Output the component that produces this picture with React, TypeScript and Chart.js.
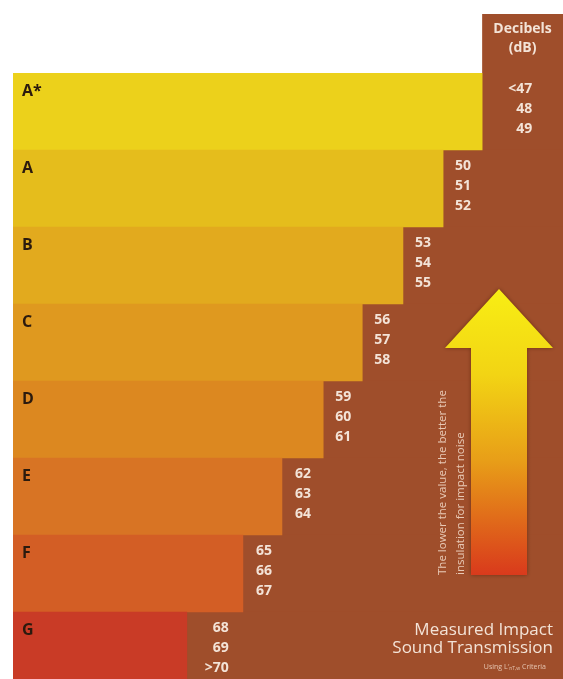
import React, { useEffect, useRef } from 'react';
import { Chart, registerables } from 'chart.js';

Chart.register(...registerables);

// ---------- data ----------
const GRADES = ['A*', 'A', 'B', 'C', 'D', 'E', 'F', 'G'];
const BAR_LENGTH = [85.3, 78.2, 70.9, 63.5, 56.4, 48.9, 41.8, 31.6];
const SCALE_MAX = 100;
const DB_VALUES = [
  ['<47', '48', '49'],
  ['50', '51', '52'],
  ['53', '54', '55'],
  ['56', '57', '58'],
  ['59', '60', '61'],
  ['62', '63', '64'],
  ['65', '66', '67'],
  ['68', '69', '>70'],
];
const HEADER = ['Decibels', '(dB)'];
const ARROW_NOTE = ['The lower the value, the better the', 'insulation for impact noise'];
const FOOTER = ['Measured Impact', 'Sound Transmission'];
const FOOTNOTE = ['Using L\u2032', 'nT,w', ' Criteria'];

// ---------- styles ----------
const GRADE_COLORS = ['#ecd11b', '#e5bd1c', '#e2aa1e', '#df991f', '#dc8820', '#d87424', '#d35e25', '#c93b26'];
const BROWN = '#9f4e2b';
const LIGHT_TEXT = '#f3e3d7';
const FONT = '"Open Sans", "DejaVu Sans", sans-serif';
const NUMBER_RIGHT_OFFSET = [50, 28, 28, 28, 28, 29, 29, 42];
const CANVAS_W = 563;
const CANVAS_H = 690;

const overlayPlugin = {
  id: 'overlay',
  beforeDatasetsDraw(chart: any) {
    const { ctx, chartArea, scales } = chart;
    const x0 = scales.x.getPixelForValue(BAR_LENGTH[0]);
    ctx.save();
    ctx.fillStyle = BROWN;
    ctx.fillRect(x0, 14, chartArea.right - x0, chartArea.top - 14 + 1);
    ctx.restore();
  },
  afterDatasetsDraw(chart: any) {
    const { ctx, chartArea, scales } = chart;
    const xs = scales.x;
    const ys = scales.y;
    const rowH = ys.getPixelForValue(1) - ys.getPixelForValue(0);
    const colX0 = xs.getPixelForValue(BAR_LENGTH[0]);
    const colCenter = (colX0 + chartArea.right) / 2;

    ctx.save();
    // header
    ctx.fillStyle = LIGHT_TEXT;
    ctx.font = `bold 14px ${FONT}`;
    ctx.textAlign = 'center';
    ctx.textBaseline = 'middle';
    ctx.fillText(HEADER[0], colCenter, 29);
    ctx.fillText(HEADER[1], colCenter, 48);

    // dB numbers
    ctx.font = `bold 14px ${FONT}`;
    ctx.textAlign = 'right';
    DB_VALUES.forEach((vals, i) => {
      const top = ys.getPixelForValue(i) - rowH / 2;
      const xr = xs.getPixelForValue(BAR_LENGTH[i]) + NUMBER_RIGHT_OFFSET[i];
      vals.forEach((v, j) => {
        ctx.fillText(v, xr, top + 16 + j * 20);
      });
    });

    // arrow
    const tipX = 499, tipY = 289, headY = 348, headL = 445, headR = 553, shaftL = 471, shaftR = 527, bottom = 575;
    const g = ctx.createLinearGradient(0, tipY, 0, bottom);
    g.addColorStop(0, '#f8ee14');
    g.addColorStop(0.3, '#f2d414');
    g.addColorStop(0.6, '#e89e18');
    g.addColorStop(1, '#d93a1c');
    ctx.save();
    ctx.shadowColor = 'rgba(70,25,0,0.55)';
    ctx.shadowBlur = 4;
    ctx.beginPath();
    ctx.moveTo(tipX, tipY);
    ctx.lineTo(headR, headY);
    ctx.lineTo(shaftR, headY);
    ctx.lineTo(shaftR, bottom);
    ctx.lineTo(shaftL, bottom);
    ctx.lineTo(shaftL, headY);
    ctx.lineTo(headL, headY);
    ctx.closePath();
    ctx.fillStyle = g;
    ctx.fill();
    ctx.restore();

    // rotated note
    ctx.fillStyle = 'rgba(240,214,196,0.9)';
    ctx.font = `11.5px ${FONT}`;
    ctx.textAlign = 'left';
    ctx.textBaseline = 'middle';
    [443, 461].forEach((x, k) => {
      ctx.save();
      ctx.translate(x, bottom);
      ctx.rotate(-Math.PI / 2);
      ctx.fillText(ARROW_NOTE[k], 0, 0);
      ctx.restore();
    });

    // footer
    ctx.fillStyle = LIGHT_TEXT;
    ctx.font = `17px ${FONT}`;
    ctx.textAlign = 'right';
    ctx.fillText(FOOTER[0], 553, 630);
    ctx.fillText(FOOTER[1], 553, 648);

    // footnote
    const mainFont = `7px ${FONT}`;
    const subFont = `5px ${FONT}`;
    ctx.font = subFont;
    const w2 = ctx.measureText(FOOTNOTE[1]).width;
    ctx.font = mainFont;
    const w1 = ctx.measureText(FOOTNOTE[0]).width;
    const w3 = ctx.measureText(FOOTNOTE[2]).width;
    const start = 546 - w1 - w2 - w3;
    ctx.textAlign = 'left';
    ctx.fillStyle = 'rgba(240,214,196,0.85)';
    ctx.fillText(FOOTNOTE[0], start, 667);
    ctx.font = subFont;
    ctx.fillText(FOOTNOTE[1], start + w1, 669);
    ctx.font = mainFont;
    ctx.fillText(FOOTNOTE[2], start + w1 + w2, 667);
    ctx.restore();
  },
};

export default function App() {
  const ref = useRef<HTMLCanvasElement>(null);
  useEffect(() => {
    if (!ref.current) return;
    const chart = new Chart(ref.current, {
      type: 'bar',
      data: {
        labels: GRADES,
        datasets: [
          {
            data: BAR_LENGTH,
            backgroundColor: GRADE_COLORS,
            borderWidth: 0,
            barPercentage: 1,
            categoryPercentage: 1,
            grouped: false,
          } as any,
          {
            data: BAR_LENGTH.map((v) => [v, SCALE_MAX]),
            backgroundColor: BROWN,
            borderWidth: 0,
            barPercentage: 1,
            categoryPercentage: 1,
            grouped: false,
          } as any,
        ],
      },
      options: {
        animation: false,
        responsive: false,
        maintainAspectRatio: false,
        devicePixelRatio: 1,
        indexAxis: 'y',
        layout: { padding: { left: 13, top: 73, right: 0, bottom: 1 } },
        plugins: { legend: { display: false }, tooltip: { enabled: false } },
        scales: {
          x: { type: 'linear', min: 0, max: SCALE_MAX, display: false },
          y: {
            type: 'category',
            grid: { display: false, drawTicks: false },
            border: { display: false },
            afterFit: (scale: any) => {
              scale.width = 0;
              scale.paddingTop = 0;
              scale.paddingBottom = 0;
            },
            ticks: {
              z: 1,
              mirror: true,
              padding: 9,
              labelOffset: -20,
              color: '#2b1a0e',
              font: { family: FONT, size: 16, weight: 'bold' },
            },
          } as any,
        },
      },
      plugins: [overlayPlugin],
    });
    return () => chart.destroy();
  }, []);
  return (
    <div style={{ position: 'fixed', left: 0, top: 0, width: 563, height: 679, overflow: 'hidden', background: '#fff' }}>
      <canvas ref={ref} width={CANVAS_W} height={CANVAS_H} style={{ display: 'block', width: CANVAS_W, height: CANVAS_H }} />
    </div>
  );
}
